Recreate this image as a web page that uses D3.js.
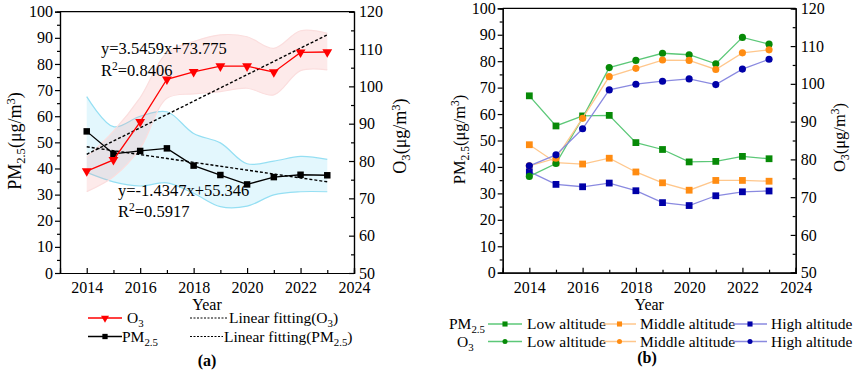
<!DOCTYPE html>
<html>
<head>
<meta charset="utf-8">
<script src="https://cdn.jsdelivr.net/npm/d3@7"></script>
<style>
  body { margin: 0; background: #fff; }
  svg, svg text { font-family: "Liberation Serif", "DejaVu Serif", serif !important; }
</style>
</head>
<body>
<svg id="chart" width="858" height="373"></svg>
<script>
// ---- data ----
const years = [2014, 2015, 2016, 2017, 2018, 2019, 2020, 2021, 2022, 2023];

// panel (a)
const o3Mean  = [77.3, 80.3, 90.5, 101.9, 103.9, 105.4, 105.4, 103.8, 109.1, 109.2];
const o3Upper = [81.0, 88.0, 97.0, 109.0, 112.0, 113.8, 113.3, 110.2, 114.9, 114.2];
const o3Lower = [71.8, 75.8, 83.4, 96.8, 98.0, 98.6, 99.5, 97.7, 104.2, 104.4];
const pmMean  = [54.2, 45.6, 46.7, 47.7, 41.1, 37.5, 33.9, 36.7, 37.6, 37.4];
const pmUpper = [67.5, 56.0, 60.0, 61.7, 53.4, 49.8, 41.8, 42.8, 44.6, 43.5];
const pmLower = [38.5, 34.9, 33.3, 34.5, 30.5, 25.4, 25.6, 29.9, 31.1, 31.1];
const fitYears = [2014, 2023];
const fitO3 = [81.8, 113.8];
const fitPm = [48.3, 34.9];

// panel (b)
const pmLow  = [66.9, 55.5, 59.3, 59.5, 49.2, 46.6, 41.9, 42.1, 44.0, 43.1];
const pmMid  = [48.4, 41.6, 41.1, 43.3, 38.1, 34.0, 31.2, 34.9, 34.9, 34.6];
const pmHigh = [38.2, 33.4, 32.5, 33.9, 31.0, 26.5, 25.4, 29.1, 30.6, 30.9];
const o3Low  = [75.5, 78.9, 91.0, 104.3, 106.2, 108.1, 107.7, 105.3, 112.3, 110.5];
const o3Mid  = [78.3, 80.3, 90.9, 101.9, 104.1, 106.3, 106.2, 103.8, 108.2, 109.0];
const o3High = [78.3, 81.2, 88.1, 98.4, 99.9, 100.7, 101.3, 99.8, 103.9, 106.5];

const xTicks = [2014, 2016, 2018, 2020, 2022, 2024];
const leftTicks = [0, 10, 20, 30, 40, 50, 60, 70, 80, 90, 100];
const rightTicks = [50, 60, 70, 80, 90, 100, 110, 120];

const FONT = '"Liberation Serif", "DejaVu Serif", serif';
const svg = d3.select('#chart').attr('font-family', FONT);

// text with sub/superscripts: parts = [[text, 'sub'|'sup'|null], ...]
function richText(sel, parts) {
  let shift = 0;
  parts.forEach(p => {
    let target = p[1] === 'sub' ? 4 : p[1] === 'sup' ? -6 : 0;
    let t = sel.append('tspan').text(p[0]).attr('dy', target - shift);
    if (p[1]) t.attr('font-size', '70%');
    shift = target;
  });
  return sel;
}

const pmTitle = [['PM', null], ['2.5', 'sub'], ['(μg/m', null], ['3', 'sup'], [')', null]];
const o3Title = [['O', null], ['3', 'sub'], ['(μg/m', null], ['3', 'sup'], [')', null]];

function drawFrame(box, titleSize) {
  const x = d3.scaleLinear().domain([2013, 2024]).range([box.left, box.right]);
  const yl = d3.scaleLinear().domain([0, 100]).range([box.bottom, box.top]);
  const yr = d3.scaleLinear().domain([50, 120]).range([box.bottom, box.top]);
  const g = svg.append('g');

  // minor ticks
  g.append('g').attr('transform', `translate(0,${box.bottom})`)
    .call(d3.axisBottom(x).tickValues([2015, 2017, 2019, 2021, 2023]).tickSize(-3).tickFormat(''));
  g.append('g').attr('transform', `translate(${box.left},0)`)
    .call(d3.axisLeft(yl).tickValues(d3.range(5, 100, 10)).tickSize(3).tickFormat(''));
  g.append('g').attr('transform', `translate(${box.right},0)`)
    .call(d3.axisRight(yr).tickValues(d3.range(55, 120, 10)).tickSize(-3).tickFormat(''));

  // major ticks
  g.append('g').attr('transform', `translate(0,${box.bottom})`)
    .call(d3.axisBottom(x).tickValues(xTicks).tickSize(-5).tickPadding(9).tickFormat(d3.format('d')));
  g.append('g').attr('transform', `translate(${box.left},0)`)
    .call(d3.axisLeft(yl).tickValues(leftTicks).tickSize(5).tickPadding(2));
  g.append('g').attr('transform', `translate(${box.right},0)`)
    .call(d3.axisRight(yr).tickValues(rightTicks).tickSize(-5).tickPadding(5));

  g.selectAll('g').attr('font-family', FONT);
  g.selectAll('.domain').attr('stroke', '#000').attr('stroke-width', 1.2);
  g.selectAll('.tick line').attr('stroke', '#000').attr('stroke-width', 1.2);
  g.selectAll('.tick text').attr('font-size', 16).attr('fill', '#000');

  // top border
  g.append('line').attr('x1', box.left).attr('x2', box.right)
    .attr('y1', box.top).attr('y2', box.top).attr('stroke', '#000').attr('stroke-width', 1.2);

  svg.append('text').attr('x', (box.left + box.right) / 2).attr('y', 310)
    .attr('text-anchor', 'middle').attr('font-size', 16).text('Year');

  richText(svg.append('text')
    .attr('transform', `translate(${box.yTitleL},${box.yTitleLY}) rotate(-90)`)
    .attr('text-anchor', 'middle').attr('font-size', titleSize), pmTitle);
  richText(svg.append('text')
    .attr('transform', `translate(${box.yTitleR},${box.yTitleRY}) rotate(-90)`)
    .attr('text-anchor', 'middle').attr('font-size', titleSize), o3Title);

  return {x, yl, yr};
}

// ---------------- panel (a) ----------------
const boxA = {left: 60, right: 354, top: 11.7, bottom: 273,
  yTitleL: 21, yTitleLY: 141, yTitleR: 406, yTitleRY: 136};
const sa = drawFrame(boxA, 18);

function band(s, y, up, lo, fill, stroke) {
  const curve = d3.curveCatmullRom.alpha(0.5);
  const pts = years.map((yr, i) => ({yr, u: up[i], l: lo[i]}));
  svg.append('path').datum(pts)
    .attr('d', d3.area().curve(curve).x(d => s.x(d.yr)).y0(d => y(d.l)).y1(d => y(d.u)))
    .attr('fill', fill).attr('fill-opacity', 0.22).attr('stroke', 'none');
  [up, lo].forEach(arr => {
    svg.append('path').datum(years.map((yr, i) => [yr, arr[i]]))
      .attr('d', d3.line().curve(curve).x(d => s.x(d[0])).y(d => y(d[1])))
      .attr('fill', 'none').attr('stroke', stroke).attr('stroke-width', 1.2);
  });
}
band(sa, sa.yl, pmUpper, pmLower, '#7fdcf5', '#95dff3');
band(sa, sa.yr, o3Upper, o3Lower, '#f7a0a0', '#fbdede');

const dash = '3,2';
svg.append('path').datum(fitYears.map((yr, i) => [yr, fitO3[i]]))
  .attr('d', d3.line().x(d => sa.x(d[0])).y(d => sa.yr(d[1])))
  .attr('stroke', '#000').attr('stroke-width', 1.4).attr('stroke-dasharray', dash).attr('fill', 'none');
svg.append('path').datum(fitYears.map((yr, i) => [yr, fitPm[i]]))
  .attr('d', d3.line().x(d => sa.x(d[0])).y(d => sa.yl(d[1])))
  .attr('stroke', '#000').attr('stroke-width', 1.4).attr('stroke-dasharray', dash).attr('fill', 'none');

const triDown = d3.symbol().type(d3.symbolTriangle).size(42);
const square = d3.symbol().type(d3.symbolSquare).size(42);

function series(s, y, vals, color, marker, lineColor, rotate) {
  const g = svg.append('g');
  g.append('path').datum(years.map((yr, i) => [yr, vals[i]]))
    .attr('d', d3.line().x(d => s.x(d[0])).y(d => y(d[1])))
    .attr('fill', 'none').attr('stroke', lineColor || color).attr('stroke-width', 1.3);
  g.selectAll('path.m').data(years.map((yr, i) => [yr, vals[i]])).join('path')
    .attr('class', 'm')
    .attr('d', marker)
    .attr('transform', d => `translate(${s.x(d[0])},${y(d[1])})` + (rotate ? ' rotate(180)' : ''))
    .attr('fill', color);
}
series(sa, sa.yl, pmMean, '#000', square);
series(sa, sa.yr, o3Mean, '#ff0000', triDown, null, true);

const ann = [
  {x: 101, y: 54, parts: [['y=3.5459x+73.775', null]]},
  {x: 101, y: 76, parts: [['R', null], ['2', 'sup'], ['=0.8406', null]]},
  {x: 118, y: 196, parts: [['y=-1.4347x+55.346', null]]},
  {x: 118, y: 217, parts: [['R', null], ['2', 'sup'], ['=0.5917', null]]}
];
ann.forEach(a => {
  richText(svg.append('text').attr('x', a.x).attr('y', a.y).attr('font-size', 16.5), a.parts);
});

// legend (a)
function legendItem(x1, x2, y, color, marker, rotate, dashed) {
  svg.append('line').attr('x1', x1).attr('x2', x2).attr('y1', y).attr('y2', y)
    .attr('stroke', color).attr('stroke-width', dashed ? 1 : 1.3)
    .attr('stroke-dasharray', dashed ? '2,1.5' : null);
  if (marker) {
    svg.append('path').attr('d', marker)
      .attr('transform', `translate(${(x1 + x2) / 2},${y})` + (rotate ? ' rotate(180)' : ''))
      .attr('fill', color);
  }
}
legendItem(88, 122, 318, '#ff0000', d3.symbol().type(d3.symbolTriangle).size(28), true);
richText(svg.append('text').attr('x', 127).attr('y', 323).attr('font-size', 15.5), [['O', null], ['3', 'sub']]);
legendItem(88, 122, 336.5, '#000', d3.symbol().type(d3.symbolSquare).size(28));
richText(svg.append('text').attr('x', 122).attr('y', 341.5).attr('font-size', 15.5), [['PM', null], ['2.5', 'sub']]);
legendItem(190, 228, 318, '#000', null, false, true);
richText(svg.append('text').attr('x', 229).attr('y', 323).attr('font-size', 15.5),
  [['Linear fitting(O', null], ['3', 'sub'], [')', null]]);
legendItem(190, 223, 336.5, '#000', null, false, true);
richText(svg.append('text').attr('x', 224).attr('y', 341.5).attr('font-size', 15.5),
  [['Linear fitting(PM', null], ['2.5', 'sub'], [')', null]]);
svg.append('text').attr('x', 207).attr('y', 366).attr('text-anchor', 'middle')
  .attr('font-size', 16).attr('font-weight', 'bold').text('(a)');

// ---------------- panel (b) ----------------
const boxB = {left: 502.7, right: 795.7, top: 8.3, bottom: 272.7,
  yTitleL: 465, yTitleLY: 139.5, yTitleR: 845, yTitleRY: 137.5};
const sb = drawFrame(boxB, 16.5);

const green = {m: '#078a07', l: '#5cc878'};
const orange = {m: '#ff8c12', l: '#ffc78c'};
const blue = {m: '#0000a8', l: '#8a8ae0'};
const sq = d3.symbol().type(d3.symbolSquare).size(46);
const circ = d3.symbol().type(d3.symbolCircle).size(40);

series(sb, sb.yl, pmLow, green.m, sq, green.l);
series(sb, sb.yl, pmMid, orange.m, sq, orange.l);
series(sb, sb.yl, pmHigh, blue.m, sq, blue.l);
series(sb, sb.yr, o3Low, green.m, circ, green.l);
series(sb, sb.yr, o3Mid, orange.m, circ, orange.l);
series(sb, sb.yr, o3High, blue.m, circ, blue.l);

// legend (b)
const legRows = [
  {y: 324, label: [['PM', null], ['2.5', 'sub']], lx: 449, marker: d3.symbol().type(d3.symbolSquare).size(26)},
  {y: 341.5, label: [['O', null], ['3', 'sub']], lx: 457, marker: d3.symbol().type(d3.symbolCircle).size(20)}
];
const legCols = [
  {x1: 488, x2: 522, tx: 527, c: green, text: 'Low altitude'},
  {x1: 603, x2: 636, tx: 640, c: orange, text: 'Middle altitude'},
  {x1: 733, x2: 767, tx: 771, c: blue, text: 'High altitude'}
];
legRows.forEach(r => {
  richText(svg.append('text').attr('x', r.lx).attr('y', r.y + 5).attr('font-size', 15.5), r.label);
  legCols.forEach(c => {
    svg.append('line').attr('x1', c.x1).attr('x2', c.x2).attr('y1', r.y).attr('y2', r.y)
      .attr('stroke', c.c.l).attr('stroke-width', 1.3);
    svg.append('path').attr('d', r.marker)
      .attr('transform', `translate(${(c.x1 + c.x2) / 2},${r.y})`).attr('fill', c.c.m);
    svg.append('text').attr('x', c.tx).attr('y', r.y + 5).attr('font-size', 15.5).text(c.text);
  });
});
svg.append('text').attr('x', 647).attr('y', 363).attr('text-anchor', 'middle')
  .attr('font-size', 16).attr('font-weight', 'bold').text('(b)');

svg.selectAll('text').attr('font-family', FONT);
</script>
</body>
</html>
